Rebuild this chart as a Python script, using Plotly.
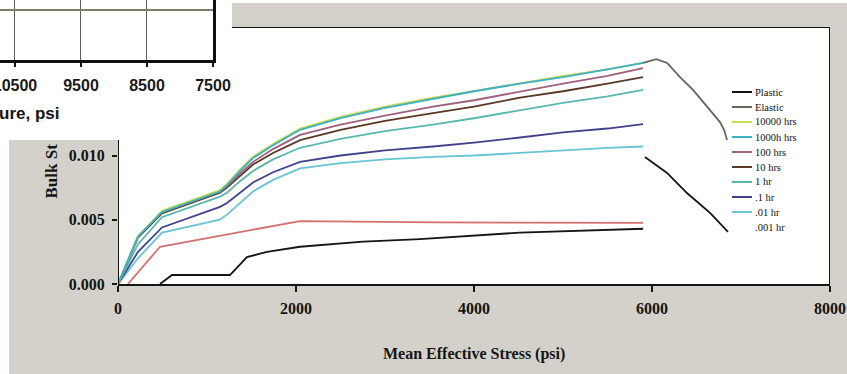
import plotly.graph_objects as go

W, H = 847, 374

# ---- creep / strain curves: mean effective stress (psi) vs bulk strain ----
stress = [0, 225, 494, 1146, 1225, 1371, 1517, 1742, 2045, 2500, 3000, 3539, 4000, 4517, 5000, 5500, 5900]
strain_10000hrs = [0, 0.0037, 0.0057, 0.0073, 0.0078, 0.0089, 0.0099, 0.0109, 0.0121, 0.0130, 0.0138, 0.0145, 0.0150, 0.0156, 0.0162, 0.0167, 0.0172]
strain_1000hrs = [0, 0.0037, 0.0056, 0.0072, 0.0077, 0.0088, 0.0098, 0.0108, 0.0120, 0.0129, 0.0137, 0.0144, 0.0150, 0.0156, 0.0161, 0.0167, 0.0172]
strain_100hrs = [0, 0.0037, 0.0056, 0.0072, 0.0076, 0.0086, 0.0095, 0.0105, 0.0116, 0.0124, 0.0131, 0.0138, 0.0143, 0.0150, 0.0156, 0.0162, 0.0168]
strain_10hrs = [0, 0.0036, 0.0055, 0.0071, 0.0075, 0.0084, 0.0093, 0.0102, 0.0112, 0.0120, 0.0127, 0.0133, 0.0138, 0.0145, 0.0150, 0.0156, 0.0161]
strain_1hr = [0, 0.0031, 0.0052, 0.0068, 0.0071, 0.0080, 0.0088, 0.0097, 0.0106, 0.0113, 0.0119, 0.0124, 0.0129, 0.0135, 0.0141, 0.0146, 0.0151]
strain_01hr = [0, 0.0025, 0.0044, 0.0060, 0.0063, 0.0071, 0.0079, 0.0087, 0.0095, 0.0100, 0.0104, 0.0107, 0.0110, 0.0114, 0.0118, 0.0121, 0.01245]
strain_001hr = [0, 0.0020, 0.0040, 0.0050, 0.0054, 0.0063, 0.0072, 0.0081, 0.0090, 0.0094, 0.0097, 0.0099, 0.0100, 0.0102, 0.0104, 0.0106, 0.0107]

stress_0001hr = [112, 472, 2045, 3600, 5900]
strain_0001hr = [0, 0.0029, 0.0049, 0.0048, 0.00475]

stress_plastic = [472, 607, 1258, 1449, 1674, 2045, 2753, 3393, 4517, 5900]
strain_plastic = [0, 0.0007, 0.0007, 0.0021, 0.0025, 0.0029, 0.0033, 0.0035, 0.0040, 0.0043]
stress_plastic_unload = [5921, 6169, 6393, 6652, 6854]
strain_plastic_unload = [0.00988, 0.00864, 0.00708, 0.00553, 0.00405]

stress_elastic = [5900, 6050, 6170, 6315, 6461, 6618, 6764, 6810, 6843]
strain_elastic = [0.0172, 0.0175, 0.0172, 0.0161, 0.0151, 0.0138, 0.0126, 0.0120, 0.0112]

series_names = ["Plastic", "Elastic", "10000 hrs", "1000h hrs", "100 hrs", "10 hrs", "1 hr", ".1 hr", ".01 hr", ".001 hr"]
series_colors = ["#151515", "#66665e", "#c8dc50", "#3cb0c4", "#a0607c", "#5a3826", "#58b8b0", "#40428c", "#68c4d4", "#d47070"]
legend_has_line = [True, True, True, True, True, True, True, True, True, False]

x_ticks = [0, 2000, 4000, 6000, 8000]
y_ticks = [0.0, 0.005, 0.010]
y_tick_text = ["0.000", "0.005", "0.010"]

# ---- partial pressure axis (upper-left panel) ----
pressure_ticks = [10500, 9500, 8500, 7500]
pressure_grid_y = [5]

col = dict(zip(series_names, series_colors))


def px(x):
    return x / W


def py(y):
    return 1 - y / H


fig = go.Figure()

lw = 1.8
curves = [
    (stress, strain_001hr, ".01 hr"),
    (stress, strain_01hr, ".1 hr"),
    (stress, strain_1hr, "1 hr"),
    (stress, strain_10hrs, "10 hrs"),
    (stress, strain_100hrs, "100 hrs"),
    (stress, strain_10000hrs, "10000 hrs"),
    (stress, strain_1000hrs, "1000h hrs"),
    (stress_0001hr, strain_0001hr, ".001 hr"),
    (stress_plastic, strain_plastic, "Plastic"),
    (stress_plastic_unload, strain_plastic_unload, "Plastic"),
    (stress_elastic, strain_elastic, "Elastic"),
]
for xs, ys, name in curves:
    fig.add_trace(go.Scatter(x=xs, y=ys, mode="lines", name=name, showlegend=False,
                             line=dict(color=col[name], width=lw), xaxis="x", yaxis="y"))

# invisible trace so the upper-left pressure axes get drawn
fig.add_trace(go.Scatter(x=[pressure_ticks[0]], y=[None], mode="lines", showlegend=False,
                         xaxis="x2", yaxis="y2", hoverinfo="skip"))

serif = "Liberation Serif"
sans = "Liberation Sans"

fig.update_layout(
    width=W, height=H, autosize=False,
    margin=dict(l=0, r=0, t=0, b=0, autoexpand=False),
    paper_bgcolor="#d4d1ca",
    plot_bgcolor="white",
    showlegend=False,
    xaxis=dict(
        domain=[px(118), px(830)], range=[0, 8000], automargin=False,
        tickvals=x_ticks, ticktext=[str(v) for v in x_ticks],
        showgrid=False, zeroline=False,
        showline=True, linecolor="#151515", linewidth=2,
        ticks="outside", ticklen=6, tickwidth=1.5, tickcolor="#151515",
        tickfont=dict(family=serif, size=16, color="#151515", weight="bold"),
        ticklabelstandoff=3, ticklabeloverflow="allow",
    ),
    yaxis=dict(
        domain=[py(284), py(27)], range=[0, 0.020], automargin=False,
        tickvals=y_ticks, ticktext=y_tick_text,
        showgrid=False, zeroline=False, showline=False,
        ticks="outside", ticklen=5, tickwidth=1.5, tickcolor="#151515",
        tickfont=dict(family=serif, size=16, color="#151515", weight="bold"),
        ticklabelstandoff=4,
    ),
    xaxis2=dict(
        domain=[0, px(213)], range=[10727, 7500], anchor="y2", automargin=False,
        tickvals=pressure_ticks, ticktext=[str(v) for v in pressure_ticks],
        showgrid=True, gridcolor="#5e5e5e", gridwidth=1, zeroline=False,
        showline=True, linecolor="#101010", linewidth=2.5,
        ticks="outside", ticklen=4, tickwidth=1.5, tickcolor="#101010",
        tickfont=dict(family=sans, size=16, color="#1a1a1a", weight="bold"),
        ticklabelstandoff=5, ticklabeloverflow="allow",
    ),
    yaxis2=dict(
        domain=[py(60), 1.0], range=[0, 6], anchor="x2", side="right", automargin=False,
        tickvals=pressure_grid_y, showticklabels=False, ticks="",
        showgrid=True, gridcolor="#7d7d68", gridwidth=1.5, zeroline=False,
        showline=True, linecolor="#101010", linewidth=2.5,
    ),
)

shapes = [
    # white page areas around the grey chart card
    dict(type="rect", xref="paper", yref="paper", x0=0, x1=px(232), y0=py(140), y1=1,
         fillcolor="white", line=dict(width=0), layer="below"),
    dict(type="rect", xref="paper", yref="paper", x0=0, x1=1, y0=py(3), y1=1,
         fillcolor="white", line=dict(width=0), layer="below"),
    dict(type="rect", xref="paper", yref="paper", x0=0, x1=px(9), y0=0, y1=1,
         fillcolor="white", line=dict(width=0), layer="below"),
    # frame of the stress plot: left axis stub, top and right borders
    dict(type="line", xref="x", yref="y", x0=0, x1=0, y0=0, y1=0.0112,
         line=dict(color="#151515", width=2)),
    dict(type="line", xref="x", yref="y", x0=1281, x1=8000, y0=0.020, y1=0.020,
         line=dict(color="#151515", width=2)),
    dict(type="line", xref="x", yref="y", x0=8000, x1=8000, y0=0, y1=0.020,
         line=dict(color="#151515", width=2)),
]

annotations = [
    dict(text="Mean Effective Stress (psi)", xref="paper", yref="paper", x=px(474), y=py(354),
         xanchor="center", yanchor="middle", showarrow=False,
         font=dict(family=serif, size=16, color="#151515", weight="bold")),
    dict(text="Bulk St", xref="paper", yref="paper", x=px(51), y=py(201), textangle=-90,
         xanchor="center", yanchor="bottom", showarrow=False,
         font=dict(family=serif, size=17, color="#151515", weight="bold")),
    dict(text="ure, psi", xref="paper", yref="paper", x=px(61), y=py(113),
         xanchor="right", yanchor="middle", showarrow=False,
         font=dict(family=sans, size=17, color="#151515", weight="bold")),
]

# legend block at the right side of the stress plot
for i, name in enumerate(series_names):
    yy = py(92 + 15 * i)
    if legend_has_line[i]:
        shapes.append(dict(type="line", xref="paper", yref="paper", x0=px(732), x1=px(752),
                           y0=yy, y1=yy, line=dict(color=col[name], width=2)))
    annotations.append(dict(text=name, xref="paper", yref="paper", x=px(753), y=yy,
                            xanchor="left", yanchor="middle", showarrow=False,
                            font=dict(family=serif, size=10.5, color="#111111")))

fig.update_layout(shapes=shapes, annotations=annotations)

fig.write_html("out.html")
